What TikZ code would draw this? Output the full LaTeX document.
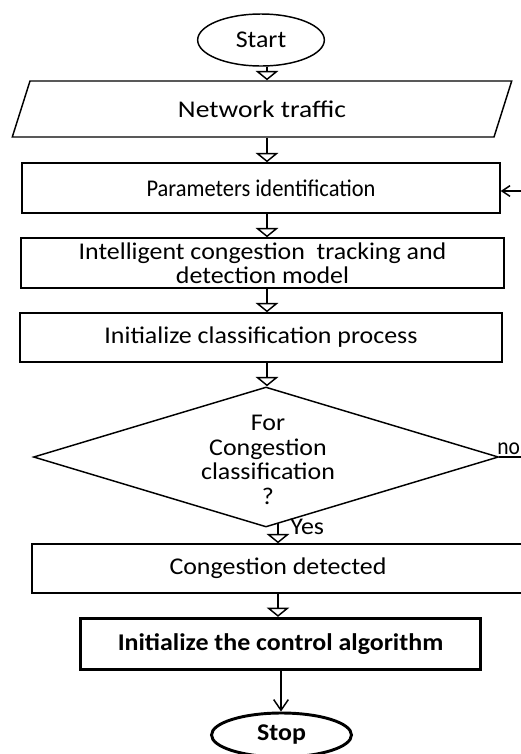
\documentclass[tikz,border=0pt]{standalone}
\usepackage{fontspec}
\usepackage{graphicx}
\setmainfont{Carlito}[FakeStretch=1.08]
\usetikzlibrary{shapes.geometric,arrows.meta}
\newcommand{\fitwidth}[2]{\resizebox{#1}{\height}{#2}}

\begin{document}
\begin{tikzpicture}[x=0.75pt,y=0.75pt,yscale=-1,xscale=1,
  every node/.style={font=\fontsize{18}{18}\selectfont,inner sep=0.75pt},
  box/.style={draw,line width=1.1pt,rectangle,align=center},
  flow/.style={line width=1.1pt,-{Triangle[open,length=7pt,width=17pt]}},
  barb/.style={line width=1.1pt,-{Straight Barb[length=8pt,width=11pt]}}]
\useasboundingbox (0,0) rectangle (521,754);
\clip (0,0) rectangle (521,754);

% Axes of the connectors
\coordinate (axA) at (267,0);
\coordinate (axB) at (278,0);
\coordinate (axC) at (281,0);

%Shape: Ellipse
\node (start) [draw,ellipse,line width=1.1pt,minimum width=95pt,minimum height=39pt] at (261,40) {Start};
%Shape: Parallelogram
\node (traffic) [draw,trapezium,trapezium left angle=71,trapezium right angle=109,trapezium stretches=true,line width=1.1pt,minimum width=375pt,minimum height=42pt] at (262,109) {\fitwidth{126pt}{Network traffic}};
%Shape: Rectangle
\node (params) [box,minimum width=358.5pt,minimum height=37.5pt] at (261,188) {\fitwidth{171.75pt}{Parameters identification}};
%Shape: Rectangle
\node (model) [box,minimum width=362.25pt,minimum height=37.5pt] at (262.5,263) {Intelligent congestion\ \ tracking and\\detection model};
%Shape: Rectangle
\node (classify) [box,minimum width=361.5pt,minimum height=36.75pt] at (261,337.5) {Initialize classification process};
%Shape: Diamond
\node (dec) [draw,diamond,line width=1.1pt,inner sep=0pt,minimum width=348.75pt,minimum height=105pt] at (266,457) {};
% Text Node
\node (dectext) [align=center,font=\fontsize{18}{18.5}\selectfont] at (268,460) {For\\Congestion\\classification\\?};
%Shape: Rectangle
\node (detected) [box,minimum width=369pt,minimum height=36.75pt] at (278,568.5) {Congestion detected};
%Shape: Rectangle
\node (control) [box,line width=2.2pt,minimum width=300pt,minimum height=38.5pt,font=\fontsize{18}{18}\selectfont\bfseries] at (280.5,644) {Initialize the control algorithm};
%Shape: Ellipse
\node (stop) [draw,ellipse,line width=2.2pt,minimum width=105pt,minimum height=33pt,font=\fontsize{18}{18}\selectfont\bfseries] at (281.5,735) {Stop};

% Text Node
\node (no) [anchor=south west,inner sep=0pt] at (497,455) {\fitwidth{17pt}{no}};
% Text Node
\node (yes) [anchor=west] at (289,527) {Yes};

%Straight Lines
\draw [flow] (start.south -| axA) -- (traffic.north -| axA);
\draw [flow] (traffic.south -| axA) -- (params.north -| axA);
\draw [flow] (params.south -| axA) -- (model.north -| axA);
\draw [flow] (model.south -| axA) -- (classify.north -| axA);
\draw [flow] (classify.south -| axA) -- (dec.north -| axA);
\coordinate (yestop) at (278,523);
\draw [flow] (yestop) -- (yestop |- detected.north);
\draw [flow] (detected.south -| axB) -- (control.north -| axB);
\draw [barb] (control.south -| axC) -- (stop.north -| axC);
%Straight Lines
\coordinate (noend) at (530,457);
\draw [line width=1.1pt] (dec.east) -- (noend);
\coordinate (back) at (530,191);
\draw [line width=1.1pt,-{Straight Barb[length=6pt,width=8pt]}] (back) -- (back -| params.east);

\end{tikzpicture}
\end{document}
